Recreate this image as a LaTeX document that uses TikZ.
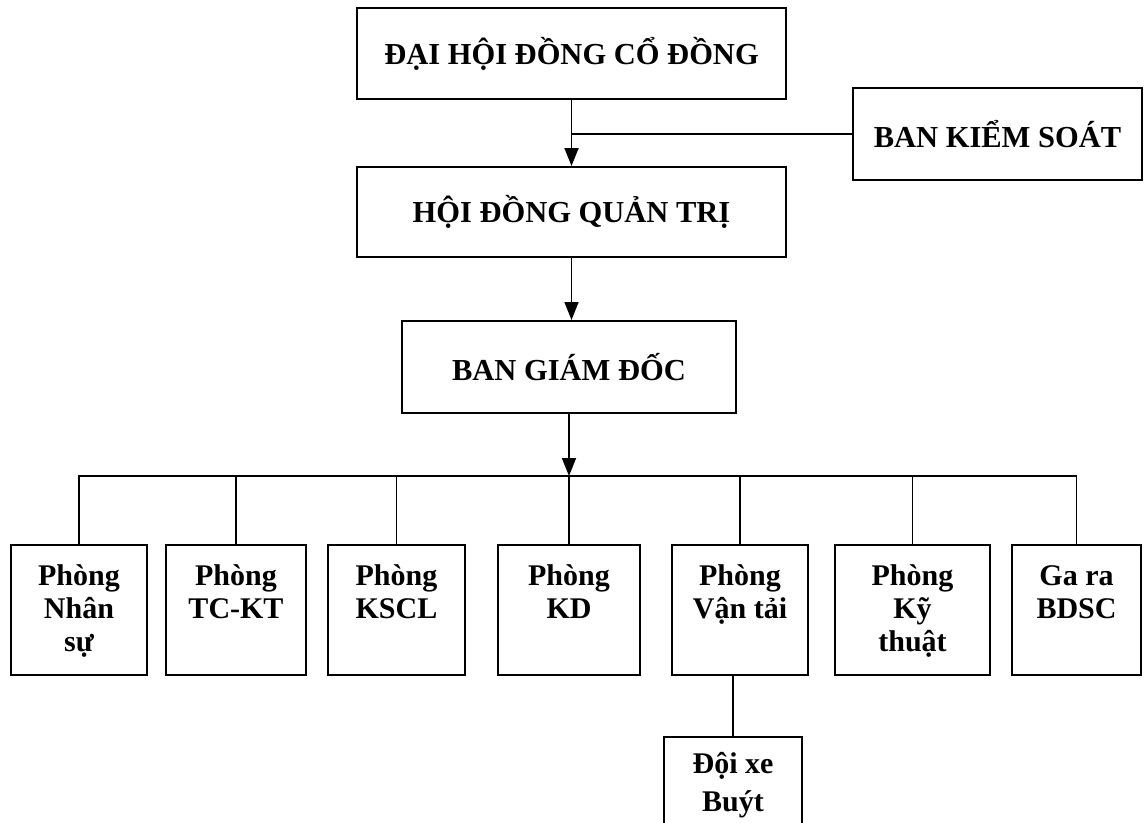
\documentclass[tikz,border=0pt]{standalone}
\usepackage{fontspec}
\setmainfont{Liberation Serif}
\usetikzlibrary{arrows.meta}
\newcommand{\deptxt}[3]{\parbox[c][#1][t]{#2}{\centering\fontsize{30pt}{33pt}\selectfont\bfseries\rule{0pt}{40pt}#3\par}}
\begin{document}
\begin{tikzpicture}[x=1pt,y=-1pt,
  hbox/.style={draw, line width=2pt, inner sep=0pt, font=\fontsize{30.5pt}{34pt}\selectfont\bfseries},
  dept/.style={draw, line width=2pt, inner sep=0pt},
  conn/.style={line width=1.8pt},
  arr/.style={conn, -{Triangle[width=14pt,length=18pt]}}]
\fill[white] (0,0) rectangle (1145,822);
\useasboundingbox (0,0) rectangle (1145,822);

\node[hbox, minimum width=429pt, minimum height=91pt] (dh) at (571.5,53.5) {ĐẠI HỘI ĐỒNG CỔ ĐỒNG};
\node[hbox, minimum width=289pt, minimum height=92pt] (bks) at (997.5,134) {BAN KIỂM SOÁT};
\node[hbox, minimum width=429pt, minimum height=90pt] (hd) at (571.5,212) {HỘI ĐỒNG QUẢN TRỊ};
\node[hbox, minimum width=334pt, minimum height=92pt] (bgd) at (569,367) {BAN GIÁM ĐỐC};

\node[dept] (b1) at (79,610) {\deptxt{130pt}{136pt}{Phòng\\Nhân\\sự}};
\node[dept] (b2) at (236,610) {\deptxt{130pt}{140pt}{Phòng\\TC-KT}};
\node[dept] (b3) at (396.5,610) {\deptxt{130pt}{137pt}{Phòng\\KSCL}};
\node[dept] (b4) at (569,610) {\deptxt{130pt}{142pt}{Phòng\\KD}};
\node[dept] (b5) at (740,610) {\deptxt{130pt}{136pt}{Phòng\\Vận tải}};
\node[dept] (b6) at (912.5,610) {\deptxt{130pt}{155pt}{Phòng\\Kỹ\\thuật}};
\node[dept] (b7) at (1076.5,610) {\deptxt{130pt}{129pt}{Ga ra\\BDSC}};
\node[dept] (dx) at (733,802) {\parbox[c][130pt][t]{138pt}{\centering\fontsize{30pt}{38pt}\selectfont\bfseries\rule{0pt}{36pt}Đội xe\\Buýt\par}};

\draw[arr] (dh.south) -- (hd.north);
\coordinate (j1) at (dh.south |- bks.west);
\draw[conn] (bks.west) -- (j1);
\draw[arr] (hd.south) -- (hd.south |- bgd.north);
\coordinate (bus) at (569,476);
\draw[arr] (bgd.south) -- (bus);
\draw[conn] (bus) -- (b4.north);
\draw[conn] (b1.north) -- (b1.north |- bus) -- (b7.north |- bus) -- (b7.north);
\foreach \b in {b2,b3,b5,b6} {\draw[conn] (\b.north) -- (\b.north |- bus);}
\draw[conn] (dx.north) -- (dx.north |- b5.south);
\end{tikzpicture}
\end{document}
